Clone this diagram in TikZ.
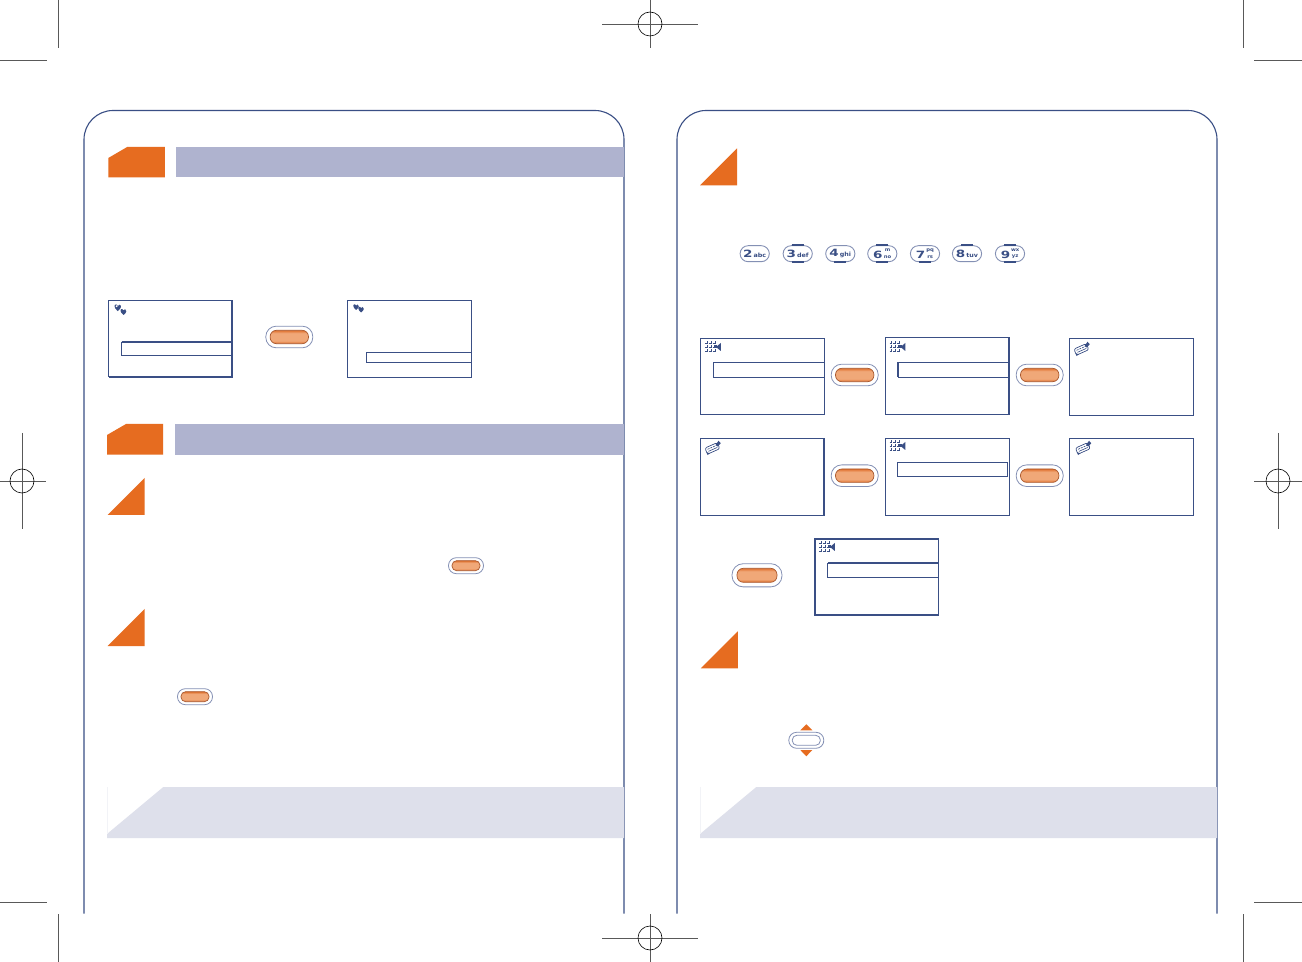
\documentclass[tikz,border=0pt]{standalone}
\usepackage{fontspec}
\usepackage{graphicx}
\setsansfont{DejaVu Sans}
\definecolor{navy}{HTML}{3A4F85}
\definecolor{keyline}{HTML}{8490B4}
\definecolor{tab}{HTML}{E66C20}
\definecolor{bar}{HTML}{AFB3CF}
\definecolor{foot}{HTML}{DEE0EB}
\definecolor{okmid}{HTML}{F0A878}
\definecolor{okedge}{HTML}{DF6F2C}
\definecolor{okline}{HTML}{A9592F}
\pgfdeclareverticalshading{okshade}{100bp}{color(0bp)=(okedge); color(25bp)=(okedge); color(36bp)=(okmid); color(64bp)=(okmid); color(75bp)=(okedge); color(100bp)=(okedge)}
\tikzset{
	crop/.style={draw=black!65, line width=0.3pt},
	panel/.style={draw=navy, line width=0.55pt, rounded corners=14.5pt},
	scr/.style={draw=navy, line width=0.5pt},
	scrthick/.style={draw=navy, line width=0.85pt},
	orange/.style={fill=tab},
	okouter/.style={draw=keyline, fill=white, line width=0.4pt, rounded corners=5.2pt, minimum width=23.5pt, minimum height=10.8pt, inner sep=0pt},
	okinner/.style={draw=okline, line width=0.35pt, shading=okshade, rounded corners=3.2pt, minimum width=19.2pt, minimum height=6.7pt, inner sep=0pt},
	oklarge/.style={minimum width=25pt, minimum height=11.6pt, rounded corners=5.6pt},
	okinlarge/.style={minimum width=20pt, minimum height=7pt},
	oksmall/.style={minimum width=17.5pt, minimum height=8pt, rounded corners=3.9pt},
	okinsmall/.style={minimum width=14pt, minimum height=5pt, rounded corners=2.3pt},
	dialkey/.style={draw=keyline, fill=white, line width=0.45pt, rounded corners=4pt, minimum width=14.6pt, minimum height=8pt, inner sep=0pt, text=navy, font=\sffamily\bfseries},
	tick/.style={draw=navy, line width=0.75pt}
}
\newcommand{\digitmark}[1]{\scalebox{1.35}[1]{\fontsize{5}{5}\selectfont #1}}
\newcommand{\oneline}[1]{\scalebox{1.1}[1]{\fontsize{2.9}{2.9}\selectfont\,#1}}
\newcommand{\twoline}[2]{\hspace{0.5pt}$\vcenter{\hbox{\vbox{\fontsize{2.4}{3.3}\selectfont\baselineskip=3.3pt\lineskiplimit=-5pt\hbox to 4pt{\hss\scalebox{1.1}[1]{#1}\hss}\hbox to 4pt{\hss\scalebox{1.1}[1]{#2}\hss}}}}$}
\newcommand{\gridicon}[2]{
	\begin{scope}[shift={(#1,#2)}]
		\foreach \i in {0,1,2}
			\foreach \j in {0,1,2}
				\draw[navy, line width=0.3pt] ({\i*3.8},{\j*4+1.6}) -- ({\i*3.8+2.2},{\j*4+1.6}) -- ({\i*3.8+2.2},{\j*4-0.6});
		\fill[navy] (8.6,3.5) rectangle (12,6.5);
		\fill[navy] (11,5) -- (15.8,1) -- (15.8,9) -- cycle;
	\end{scope}
}
\newcommand{\clipicon}[2]{
	\begin{scope}[shift={(#1,#2)}, rotate=24]
		\draw[navy, line width=0.35pt, rounded corners=1pt] (-7.5,-3.2) rectangle (6,3.4);
		\draw[navy, line width=0.3pt, dash pattern=on 1pt off 0.5pt] (-5.5,-1) -- (4,-1);
		\draw[navy, line width=0.3pt] (-5.5,1.2) -- (4,1.2);
		\fill[navy] (3.5,-1.6) -- (8,-4.4) -- (9,-1.2) -- (5,0.6) -- cycle;
		\fill[navy] (-7.8,1.2) -- (-4.8,3.6) -- (-7.8,4.2) -- cycle;
	\end{scope}
}
\newcommand{\hearticon}[3]{
	\begin{scope}[shift={(#1,#2)}, scale=#3]
		\fill[navy] (3,6) .. controls (-1,3) and (-0.5,-0.5) .. (1.6,0) .. controls (2.4,0) and (2.9,0.6) .. (3,1.4) .. controls (3.2,0.6) and (3.8,0) .. (4.6,0.2) .. controls (6.4,0.5) and (6.6,3.4) .. (3,6) -- cycle;
	\end{scope}
}
\begin{document}
\begin{tikzpicture}[x=0.5pt, y=-0.5pt]
	\useasboundingbox (0,0) rectangle (1302,962);
	\fill[white] (0,0) rectangle (1302,962);
	\foreach \cx in {58,1243} {
		\draw[crop] (\cx,0) -- (\cx,48);
		\draw[crop] (\cx,914) -- (\cx,962);
	}
	\foreach \cy in {60,902} {
		\draw[crop] (0,\cy) -- (47,\cy);
		\draw[crop] (1254,\cy) -- (1302,\cy);
	}
	\foreach \rx/\ry in {650/24, 650/938} {
		\draw[crop] ({\rx-48},\ry) -- ({\rx+48},\ry);
		\draw[crop] (\rx,{\ry-24}) -- (\rx,{\ry+24});
		\draw[black, line width=0.3pt] (\rx,\ry) circle (6pt);
	}
	\foreach \rx/\ry in {22/481, 1278/481} {
		\draw[crop] ({\rx-24},\ry) -- ({\rx+24},\ry);
		\draw[crop] (\rx,{\ry-48}) -- (\rx,{\ry+48});
		\draw[black, line width=0.3pt] (\rx,\ry) circle (6pt);
	}
	\draw[panel] (84,913.5) -- (84,110.5) -- (624,110.5) -- (624,913.5);
	\draw[panel] (677,913.5) -- (677,110.5) -- (1217,110.5) -- (1217,913.5);
	\fill[orange] (108.3,158) -- (127.5,146.8) -- (164.8,146.8) -- (164.8,177.3) -- (108.3,177.3) -- cycle;
	\fill[bar] (176,147) rectangle (624,177);
	\fill[orange] (107,435) -- (126,424) -- (163,424) -- (163,454.7) -- (107,454.7) -- cycle;
	\fill[bar] (175,424) rectangle (624,455);
	\foreach \tx/\ty in {144.6/515, 144.6/646, 737/185.4, 737.8/668.3}
		\fill[orange] (\tx,\ty) -- ({\tx-37},\ty) -- (\tx,{\ty-37}) -- cycle;
	\fill[foot] (107,834) -- (163.3,787) -- (624,787) -- (624,838) -- (107,838) -- cycle;
	\fill[foot] (700,834) -- (756.3,787) -- (1217,787) -- (1217,838) -- (700,838) -- cycle;
	\draw[foot!40, line width=0.3pt] (107,787) -- (107,834);
	\draw[foot!40, line width=0.3pt] (700,787) -- (700,834);
	\draw[scr] (108.5,300.5) rectangle (232,377);
	\draw[scrthick] (232,300.5) -- (232,377) -- (108.5,377);
	\draw[scr] (121.5,342) -- (121.5,356) -- (232,356);
	\draw[scrthick] (121.5,342) -- (232,342);
	\hearticon{114.5}{304.5}{1.1}
	\hearticon{120.5}{309}{1}
	\fill[white] (116.6,306.2) circle (0.5pt);
	\draw[scr] (347.5,300.5) rectangle (471.5,377.5);
	\draw[scr] (471.5,352.5) -- (366.5,352.5) -- (366.5,362.5) -- (471.5,362.5);
	\hearticon{353.3}{304.3}{0.95}
	\hearticon{358.3}{306.8}{0.95}
	\draw[scr] (700.5,338.5) rectangle (824.5,414.5);
	\draw[scr] (824.5,362.5) -- (713.5,362.5) -- (713.5,377.5) -- (824.5,377.5);
	\gridicon{705}{342}
	\draw[scr] (885.5,338) rectangle (1009,414.5);
	\draw[scrthick] (1009,338) -- (1009,414.5);
	\draw[scr] (1009,362.5) -- (898,362.5) -- (898,377.5) -- (1009,377.5);
	\draw[scrthick] (898.2,362.5) -- (898.2,377.5);
	\gridicon{889.5}{342}
	\draw[scr] (1069.5,338.5) rectangle (1193.5,415.5);
	\clipicon{1082}{349}
	\draw[scr] (700.5,438.5) rectangle (824.5,515.5);
	\draw[scrthick] (824,438.5) -- (824,515.5);
	\clipicon{713}{448}
	\draw[scr] (885.5,438.5) rectangle (1009.5,515.5);
	\draw[scr] (897.5,462.5) rectangle (1007.5,476.5);
	\gridicon{889.5}{441}
	\draw[scr] (1069.5,438.5) rectangle (1193.5,515.5);
	\clipicon{1083.5}{448}
	\draw[scrthick] (814.8,538.8) rectangle (938.5,615);
	\draw[scrthick] (938.5,563) -- (827.5,563);
	\draw[scr] (827.5,563) -- (827.5,577.5) -- (938.5,577.5);
	\gridicon{819}{542}
	\foreach \nm/\px/\py in {okA/289.3/337, okC/854.7/375, okD/1039.7/375, okE/854.7/475.7, okF/1039.7/475.7} {
		\node[okouter] (\nm) at (\px,\py) {};
		\node[okinner] (\nm in) at (\nm) {};
	}
	\node[okouter, oklarge] (okG) at (757,575.3) {};
	\node[okinner, okinlarge] (okG in) at (okG) {};
	\foreach \nm/\px/\py in {okH/466/565.7, okJ/195/696.7} {
		\node[okouter, oksmall] (\nm) at (\px,\py) {};
		\node[okinner, okinsmall] (\nm in) at (\nm) {};
	}
	\node[okouter, oksmall] (navkey) at (806.3,740.3) {};
	\node[draw=keyline, line width=0.4pt, rounded corners=2.3pt, minimum width=14pt, minimum height=5pt, inner sep=0pt] (navin) at (navkey) {};
	\fill[orange] (806.3,724.3) -- (812.3,730.3) -- (800.3,730.3) -- cycle;
	\fill[orange] (806.3,756.3) -- (812.3,750) -- (800.3,750) -- cycle;
	\node[dialkey] (key2) at (754.7,253.7) {\digitmark{2}\oneline{abc}};
	\node[dialkey] (key3) at (797.7,253.7) {\digitmark{3}\oneline{def}};
	\node[dialkey] (key4) at (840.3,253.7) {\digitmark{4}\oneline{ghi}};
	\node[dialkey] (key6) at (882.3,253.7) {\digitmark{6}\twoline{m}{no}};
	\node[dialkey] (key7) at (925,253.7) {\digitmark{7}\twoline{pq}{rs}};
	\node[dialkey] (key8) at (967,253.7) {\digitmark{8}\oneline{tuv}};
	\node[dialkey] (key9) at (1010,253.7) {\digitmark{9}\twoline{wx}{yz}};
	\foreach \nm in {key3,key6,key8,key9}
		\draw[tick] ([xshift=-3pt]\nm.north) -- ([xshift=3pt]\nm.north);
	\foreach \nm in {key3,key4,key6,key7,key9}
		\draw[tick] ([xshift=-3pt]\nm.south) -- ([xshift=3pt]\nm.south);
\end{tikzpicture}
\end{document}
